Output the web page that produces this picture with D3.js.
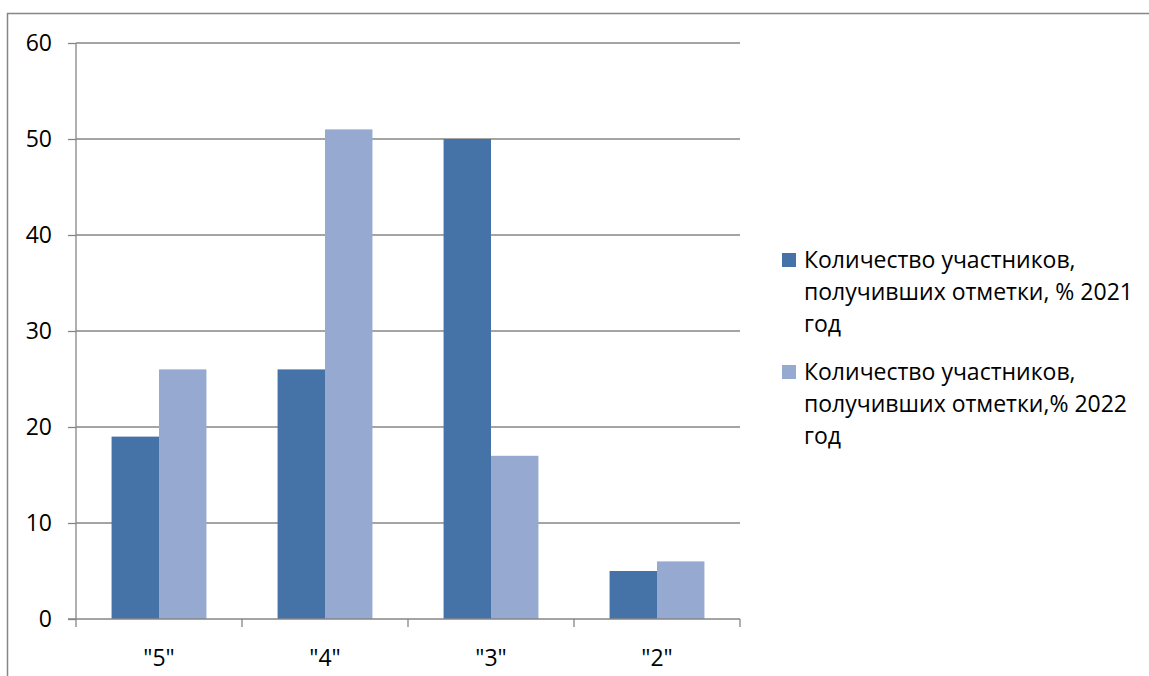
<!DOCTYPE html>
<html>
<head>
<meta charset="utf-8">
<script src="https://cdn.jsdelivr.net/npm/d3@7"></script>
<style>
  body { margin: 0; background: #fff; }
  text { font-family: "Open Sans", "Noto Sans", sans-serif; fill: #000; }
</style>
</head>
<body>
<div id="chart"></div>
<script>
const categories = ['"5"', '"4"', '"3"', '"2"'];
const seriesNames = [
    ["Количество участников,", "получивших отметки, % 2021", "год"],
    ["Количество участников,", "получивших отметки,% 2022", "год"]
];
const values2021 = [19, 26, 50, 5];
const values2022 = [26, 51, 17, 6];
const yTicks = [0, 10, 20, 30, 40, 50, 60];
const colors = ["#4573A7", "#95A9D1"];

const W = 1149, H = 676;
const plotLeft = 76, plotRight = 740, plotTop = 43, plotBottom = 619;
const fontSize = "23px";

const svg = d3.select("#chart").append("svg")
    .attr("width", W)
    .attr("height", H);

// outer frame
svg.append("rect")
    .attr("x", 7.5).attr("y", 13.5)
    .attr("width", W + 10).attr("height", H + 10)
    .attr("fill", "none")
    .attr("stroke", "#868686")
    .attr("stroke-width", 1.5);

const x = d3.scaleBand()
    .domain(categories)
    .range([plotLeft, plotRight]);

const x1 = d3.scaleBand()
    .domain([0, 1])
    .range([0, x.bandwidth()])
    .paddingOuter(0.75);

const y = d3.scaleLinear()
    .domain([0, 60])
    .range([plotBottom, plotTop]);

// gridlines
svg.append("g")
    .selectAll("line")
    .data(yTicks.filter(d => d > 0))
    .join("line")
    .attr("x1", plotLeft).attr("x2", plotRight)
    .attr("y1", d => y(d)).attr("y2", d => y(d))
    .attr("stroke", "#868686")
    .attr("stroke-width", 1.3);

// bars
const groups = svg.append("g")
    .selectAll("g")
    .data(categories)
    .join("g")
    .attr("transform", d => `translate(${x(d)},0)`);

groups.selectAll("rect")
    .data((d, i) => [values2021[i], values2022[i]])
    .join("rect")
    .attr("x", (d, j) => x1(j))
    .attr("width", x1.bandwidth())
    .attr("y", d => y(d))
    .attr("height", d => y(0) - y(d))
    .attr("fill", (d, j) => colors[j]);

// y axis
const yAxis = svg.append("g")
    .attr("transform", `translate(${plotLeft},0)`)
    .call(d3.axisLeft(y).tickValues(yTicks).tickSize(8).tickPadding(16));
yAxis.selectAll("line, path").attr("stroke", "#868686").attr("stroke-width", 1.3);
yAxis.select("path").attr("d", `M0,${plotTop}V${plotBottom}`);
yAxis.selectAll("text").style("font-size", fontSize).attr("fill", "#000");

// x axis
const xAxis = svg.append("g")
    .attr("transform", `translate(0,${plotBottom})`)
    .call(d3.axisBottom(x).tickSize(0).tickPadding(31));
xAxis.select("path").attr("d", `M${plotLeft - 8},0H${plotRight}`)
    .attr("stroke", "#868686").attr("stroke-width", 1.3);
xAxis.selectAll("text").style("font-size", fontSize).attr("fill", "#000");

svg.append("g")
    .selectAll("line")
    .data([plotLeft, ...categories.map(c => x(c) + x.bandwidth())])
    .join("line")
    .attr("x1", d => d).attr("x2", d => d)
    .attr("y1", plotBottom).attr("y2", plotBottom + 8)
    .attr("stroke", "#868686")
    .attr("stroke-width", 1.3);

// legend
const legend = svg.append("g")
    .selectAll("g")
    .data(seriesNames)
    .join("g")
    .attr("transform", (d, i) => `translate(782,${260 + i * 112})`);

legend.append("rect")
    .attr("x", 0).attr("y", -7)
    .attr("width", 14).attr("height", 14)
    .attr("fill", (d, i) => colors[i]);

legend.append("text")
    .style("font-size", fontSize)
    .selectAll("tspan")
    .data(d => d)
    .join("tspan")
    .attr("x", 22)
    .attr("y", (d, k) => k * 32)
    .attr("dy", "0.35em")
    .text(d => d);
</script>
</body>
</html>
